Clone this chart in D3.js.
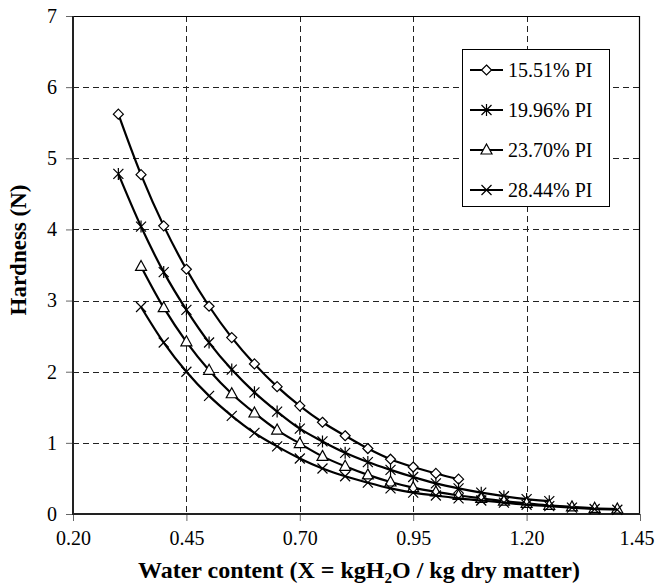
<!DOCTYPE html>
<html>
<head>
<meta charset="utf-8">
<script src="https://cdn.jsdelivr.net/npm/d3@7"></script>
<style>
  body { margin: 0; background: #fff; }
</style>
</head>
<body>
<svg id="chart" width="655" height="585"></svg>
<script>
const FONT = "'Liberation Serif', monospace";
const svg = d3.select("#chart");

// data
const xA = [0.30, 0.35, 0.40, 0.45, 0.50, 0.55, 0.60, 0.65, 0.70, 0.75, 0.80, 0.85, 0.90, 0.95, 1.00, 1.05];
const yA = [5.62, 4.77, 4.05, 3.44, 2.92, 2.48, 2.11, 1.79, 1.52, 1.29, 1.10, 0.92, 0.77, 0.66, 0.57, 0.49];

const xB = [0.30, 0.35, 0.40, 0.45, 0.50, 0.55, 0.60, 0.65, 0.70, 0.75, 0.80, 0.85, 0.90, 0.95, 1.00, 1.05, 1.10, 1.15, 1.20, 1.25];
const yB = [4.78, 4.04, 3.40, 2.87, 2.41, 2.03, 1.71, 1.44, 1.20, 1.02, 0.86, 0.73, 0.62, 0.52, 0.43, 0.36, 0.30, 0.25, 0.21, 0.18];

const xC = [0.35, 0.40, 0.45, 0.50, 0.55, 0.60, 0.65, 0.70, 0.75, 0.80, 0.85, 0.90, 0.95, 1.00, 1.05, 1.10, 1.15, 1.20, 1.25, 1.30, 1.35, 1.40];
const yC = [3.48, 2.90, 2.42, 2.02, 1.69, 1.42, 1.18, 0.99, 0.81, 0.67, 0.55, 0.45, 0.37, 0.31, 0.26, 0.22, 0.18, 0.15, 0.12, 0.10, 0.08, 0.07];

const xD = [0.35, 0.40, 0.45, 0.50, 0.55, 0.60, 0.65, 0.70, 0.75, 0.80, 0.85, 0.90, 0.95, 1.00, 1.05, 1.10, 1.15, 1.20, 1.25, 1.30, 1.35, 1.40];
const yD = [2.91, 2.41, 2.00, 1.66, 1.38, 1.14, 0.95, 0.78, 0.64, 0.53, 0.44, 0.36, 0.30, 0.26, 0.22, 0.19, 0.16, 0.13, 0.11, 0.09, 0.07, 0.06];

const seriesNames = ["15.51% PI", "19.96% PI", "23.70% PI", "28.44% PI"];
const xTicks = [0.20, 0.45, 0.70, 0.95, 1.20, 1.45];
const yTicks = [0, 1, 2, 3, 4, 5, 6, 7];

const pLeft = 73, pRight = 640, pTop = 16, pBottom = 514;

const x = d3.scaleLinear().domain([0.20, 1.45]).range([pLeft, pRight]);
const y = d3.scaleLinear().domain([0, 7]).range([pBottom, pTop]);

// markers
const markers = [
  { d: "M0,-5L5,0L0,5L-5,0Z", fill: "#fff" },
  { d: "M-5,-5L5,5M-5,5L5,-5M0,-6L0,6", fill: "none" },
  { d: "M0,-6L5.5,4L-5.5,4Z", fill: "#fff" },
  { d: "M-5,-5L5,5M-5,5L5,-5", fill: "none" }
];

const series = [
  { xs: xA, ys: yA },
  { xs: xB, ys: yB },
  { xs: xC, ys: yC },
  { xs: xD, ys: yD }
].map((s, i) => ({ name: seriesNames[i], m: markers[i], pts: s.xs.map((v, j) => [v, s.ys[j]]) }));

// grid
svg.append("g").selectAll("line")
   .data(xTicks.slice(1, -1))
   .join("line")
   .attr("x1", d => Math.round(x(d)) + 0.5).attr("x2", d => Math.round(x(d)) + 0.5)
   .attr("y1", pTop).attr("y2", pBottom)
   .attr("stroke", "#222").attr("stroke-dasharray", "6,4");

svg.append("g").selectAll("line")
   .data(yTicks.slice(1, -1))
   .join("line")
   .attr("x1", pLeft).attr("x2", pRight)
   .attr("y1", d => Math.round(y(d)) + 0.5).attr("y2", d => Math.round(y(d)) + 0.5)
   .attr("stroke", "#222").attr("stroke-dasharray", "6,4");

// axes
const xAxis = svg.append("g")
   .attr("transform", `translate(0,${pBottom})`)
   .call(d3.axisBottom(x).tickValues(xTicks).tickFormat(d3.format(".2f")).tickSize(7).tickPadding(10));
const yAxis = svg.append("g")
   .attr("transform", `translate(${pLeft},0)`)
   .call(d3.axisLeft(y).tickValues(yTicks).tickFormat(d3.format("d")).tickSize(7).tickPadding(9));

[xAxis, yAxis].forEach(g => {
  g.select(".domain").remove();
  g.selectAll(".tick line").attr("stroke", "#666");
  g.selectAll("text").attr("fill", "#000")
   .style("font-family", FONT).style("font-size", "20px");
});
// keep the last x label inside the page
xAxis.selectAll(".tick text").filter(d => d === 1.45)
   .attr("text-anchor", "end").attr("x", 654 - pRight);

// frame
svg.append("line").attr("x1", pLeft).attr("x2", pRight).attr("y1", pTop + 0.5).attr("y2", pTop + 0.5)
   .attr("stroke", "#000").attr("stroke-width", 1.2);
svg.append("line").attr("x1", pRight - 0.5).attr("x2", pRight - 0.5).attr("y1", pTop).attr("y2", pBottom)
   .attr("stroke", "#000").attr("stroke-width", 1.2);
svg.append("line").attr("x1", pLeft).attr("x2", pLeft).attr("y1", pTop).attr("y2", pBottom + 1)
   .attr("stroke", "#222").attr("stroke-width", 2);
svg.append("line").attr("x1", pLeft - 1).attr("x2", pRight).attr("y1", pBottom).attr("y2", pBottom)
   .attr("stroke", "#222").attr("stroke-width", 2);

// series
const line = d3.line()
               .x(d => x(d[0]))
               .y(d => y(d[1]))
               .curve(d3.curveCatmullRom);

series.forEach(s => {
  const g = svg.append("g");
  g.append("path")
   .datum(s.pts)
   .attr("d", line)
   .attr("fill", "none")
   .attr("stroke", "#000")
   .attr("stroke-width", 2.2);
  g.selectAll("path.mk")
   .data(s.pts)
   .join("path")
   .attr("class", "mk")
   .attr("transform", d => `translate(${x(d[0])},${y(d[1])})`)
   .attr("d", s.m.d)
   .attr("fill", s.m.fill)
   .attr("stroke", "#000")
   .attr("stroke-width", 1.2);
});

// legend
const lg = svg.append("g");
lg.append("rect")
  .attr("x", 462.5).attr("y", 49.5).attr("width", 147).attr("height", 157)
  .attr("fill", "#fff").attr("stroke", "#000").attr("stroke-width", 1);

series.forEach((s, i) => {
  const yy = 70 + i * 40;
  lg.append("line").attr("x1", 470).attr("x2", 503).attr("y1", yy).attr("y2", yy)
    .attr("stroke", "#000").attr("stroke-width", 2.2);
  lg.append("path").attr("transform", `translate(486.5,${yy})`)
    .attr("d", s.m.d).attr("fill", s.m.fill).attr("stroke", "#000").attr("stroke-width", 1.2);
  lg.append("text").attr("x", 508).attr("y", yy).attr("dy", "0.35em")
    .style("font-family", FONT).style("font-size", "20px").text(s.name);
});

// titles
const xt = svg.append("text")
   .attr("x", 359).attr("y", 578)
   .attr("text-anchor", "middle")
   .style("font-family", FONT).style("font-size", "24px").style("font-weight", "bold");
xt.append("tspan").text("Water content (X = kgH");
xt.append("tspan").style("font-size", "15px").attr("dy", 5).text("2");
xt.append("tspan").attr("dy", -5).text("O / kg dry matter)");

svg.append("text")
   .attr("transform", "translate(26,250) rotate(-90)")
   .attr("text-anchor", "middle")
   .style("font-family", FONT).style("font-size", "23px").style("font-weight", "bold")
   .text("Hardness (N)");
</script>
</body>
</html>
